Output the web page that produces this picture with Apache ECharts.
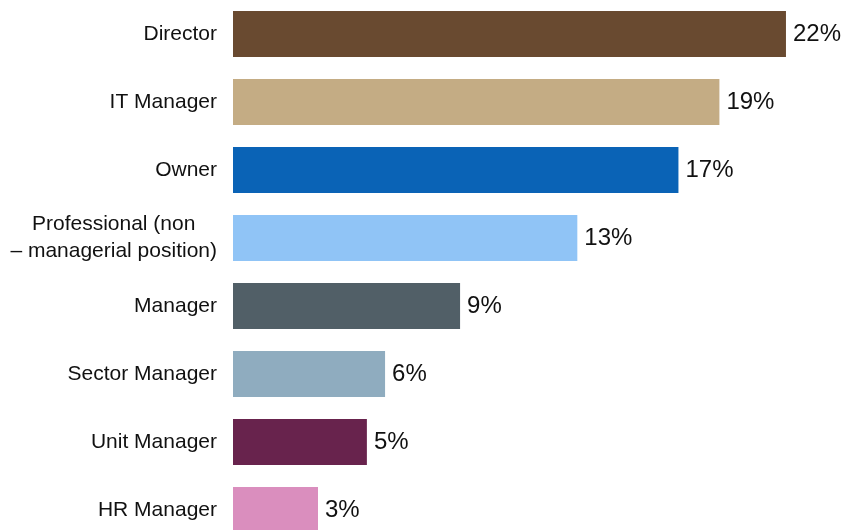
<!DOCTYPE html>
<html>
<head>
<meta charset="utf-8">
<script src="https://cdn.jsdelivr.net/npm/echarts@6/dist/echarts.min.js"></script>
<style>
  html, body { margin: 0; padding: 0; background: #ffffff; }
  #chart { width: 845px; height: 530px; }
</style>
</head>
<body>
<div id="chart"></div>
<script>
// Job roles, top to bottom
const roles = [
  'Director',
  'IT Manager',
  'Owner',
  'Professional (non\n– managerial position)',
  'Manager',
  'Sector Manager',
  'Unit Manager',
  'HR Manager'
];
// Share of respondents (%), shown rounded on the labels
const shares = [21.6, 19.0, 17.4, 13.45, 8.87, 5.94, 5.23, 3.32];
// One fill per role
const roleColors = [
  '#694A30', '#C4AC84', '#0A63B6', '#90C4F6',
  '#515F67', '#8FACBF', '#68234D', '#DA8EBE'
];

const chart = echarts.init(document.getElementById('chart'), null, { renderer: 'canvas' });

chart.setOption({
  animation: false,
  backgroundColor: '#ffffff',
  grid: {
    left: 233, top: 0, width: 612, height: 544,
    containLabel: false,
    outerBoundsMode: 'none'
  },
  xAxis: {
    type: 'value',
    min: 0,
    max: 23.906,
    show: false
  },
  yAxis: {
    type: 'category',
    inverse: true,
    data: roles,
    axisLine: { show: false },
    axisTick: { show: false },
    splitLine: { show: false },
    axisLabel: {
      margin: 16,
      color: '#111111',
      fontFamily: 'Liberation Sans, Arial, sans-serif',
      fontSize: 21,
      lineHeight: 27,
      formatter: function (v) {
        if (v.indexOf('\n') >= 0) {
          return v.split('\n').map(function (s) { return '{c|' + s + '}'; }).join('\n');
        }
        return v;
      },
      rich: {
        c: {
          align: 'center',
          color: '#111111',
          fontFamily: 'Liberation Sans, Arial, sans-serif',
          fontSize: 21,
          lineHeight: 27
        }
      }
    }
  },
  series: [{
    type: 'bar',
    data: shares.map(function (v, i) {
      return { value: v, itemStyle: { color: roleColors[i] } };
    }),
    barCategoryGap: '32%',
    label: {
      show: true,
      position: 'right',
      distance: 7,
      color: '#111111',
      fontFamily: 'Liberation Sans, Arial, sans-serif',
      fontSize: 24,
      formatter: function (p) { return Math.round(p.value) + '%'; }
    }
  }]
});
</script>
</body>
</html>
